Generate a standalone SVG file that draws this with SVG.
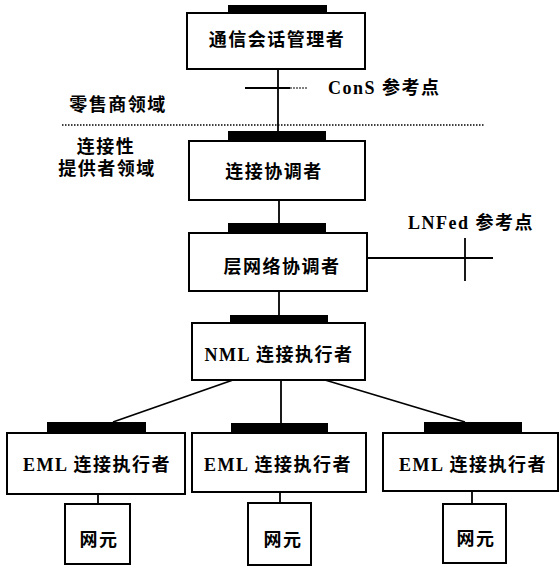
<svg xmlns="http://www.w3.org/2000/svg" width="560" height="566" viewBox="0 0 560 566">
<style>
.box{fill:#fff;stroke:#000;stroke-width:2}
.bar{fill:#000}
.ln{stroke:#000;stroke-width:1.8;fill:none}
.t{font-family:"Liberation Serif","Noto Sans CJK SC",serif;font-weight:bold;font-size:18px;fill:#000;letter-spacing:1.5px}
.c{text-anchor:middle}
</style>
<rect width="560" height="566" fill="#fff"/>
<g id="connectors">
<line class="ln" x1="278" y1="69" x2="278" y2="131"/>
<line class="ln" x1="245" y1="88" x2="290" y2="88"/>
<line x1="290" y1="88" x2="308" y2="88" stroke="#000" stroke-width="1" stroke-dasharray="2,1"/>
<line x1="62" y1="125" x2="485" y2="125" stroke="#000" stroke-width="1.5" stroke-dasharray="1.5,1.5"/>
<line class="ln" x1="279" y1="200" x2="279" y2="223"/>
<line class="ln" x1="367" y1="258" x2="493" y2="258"/>
<line class="ln" x1="465" y1="238" x2="465" y2="281"/>
<line class="ln" x1="279" y1="291" x2="279" y2="315"/>
<line class="ln" x1="233" y1="380" x2="113" y2="422"/>
<line class="ln" x1="281" y1="380" x2="281" y2="423"/>
<line class="ln" x1="325" y1="380" x2="465" y2="422"/>
<line class="ln" x1="98" y1="494" x2="98" y2="504"/>
<line class="ln" x1="280" y1="492" x2="280" y2="503"/>
<line class="ln" x1="472" y1="491" x2="472" y2="504"/>
</g>
<g id="labels">
<text class="t" x="328" y="94">ConS 参考点</text>
<text class="t" x="408" y="229">LNFed 参考点</text>
<text class="t c" x="118" y="111">零售商领域</text>
<text class="t c" x="106" y="153">连接性</text>
<text class="t c" x="107" y="175">提供者领域</text>
</g>
<g id="n1">
<rect class="bar" x="228" y="5" width="99" height="9"/>
<rect class="box" x="187" y="13" width="178" height="56"/>
<text class="t c" x="277" y="46">通信会话管理者</text>
</g>
<g id="n2">
<rect class="bar" x="228" y="131" width="98" height="11"/>
<rect class="box" x="189" y="141" width="176" height="59"/>
<text class="t c" x="274" y="178">连接协调者</text>
</g>
<g id="n3">
<rect class="bar" x="228" y="223" width="98" height="11"/>
<rect class="box" x="189" y="233" width="178" height="58"/>
<text class="t c" x="282" y="273">层网络协调者</text>
</g>
<g id="n4">
<rect class="bar" x="230" y="315" width="98" height="9"/>
<rect class="box" x="192" y="323" width="173" height="57"/>
<text class="t c" x="279" y="361">NML 连接执行者</text>
</g>
<g id="e1">
<rect class="bar" x="47" y="422" width="99" height="12"/>
<rect class="box" x="7" y="433" width="178" height="61"/>
<text class="t c" x="97" y="471">EML 连接执行者</text>
</g>
<g id="e2">
<rect class="bar" x="231" y="423" width="97" height="11"/>
<rect class="box" x="192" y="433" width="174" height="59"/>
<text class="t c" x="278" y="471">EML 连接执行者</text>
</g>
<g id="e3">
<rect class="bar" x="424" y="422" width="98" height="12"/>
<rect class="box" x="383" y="433" width="175" height="58"/>
<text class="t c" x="473" y="471">EML 连接执行者</text>
</g>
<g id="ne1">
<rect class="box" x="65" y="504" width="65" height="60"/>
<text class="t c" x="99" y="546">网元</text>
</g>
<g id="ne2">
<rect class="box" x="248" y="503" width="63" height="62"/>
<text class="t c" x="283" y="546">网元</text>
</g>
<g id="ne3">
<rect class="box" x="443" y="504" width="63" height="59"/>
<text class="t c" x="476" y="545">网元</text>
</g>
</svg>
